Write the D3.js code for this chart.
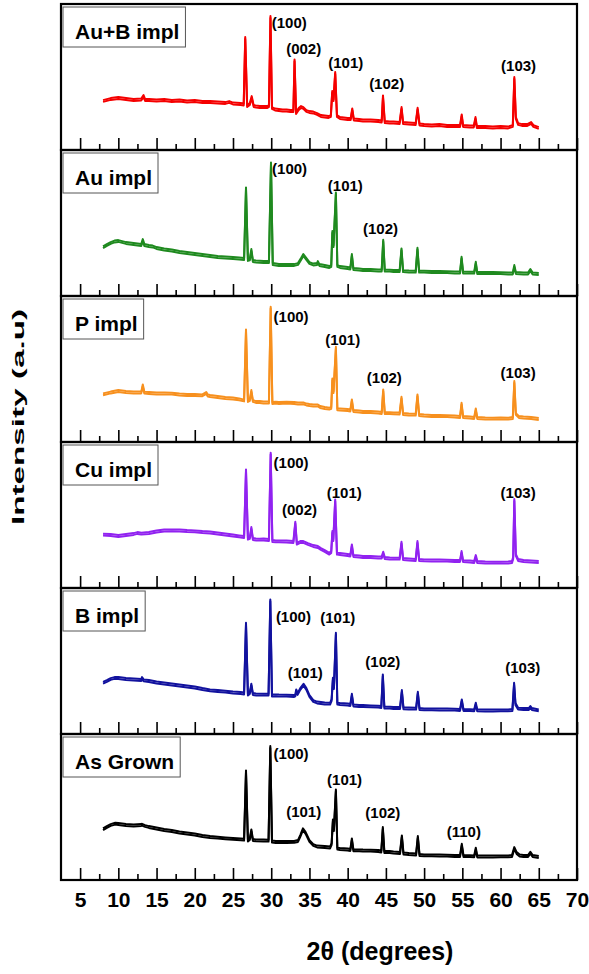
<!DOCTYPE html>
<html>
<head>
<meta charset="utf-8">
<script src="https://cdn.jsdelivr.net/npm/d3@7"></script>
<style>
  body { margin: 0; background: #fff; }
  svg { display: block; font-family: "Liberation Sans", Arial, sans-serif; }
</style>
</head>
<body>
<div id="chart"></div>
<script>
// sample names, top panel first
const sampleNames = ['Au+B impl', 'Au impl', 'P impl', 'Cu impl', 'B impl', 'As Grown']

const majorTicks = [5, 10, 15, 20, 25, 30, 35, 40, 45, 50, 55, 60, 65, 70]
const minorTicks = [7.5, 12.5, 17.5, 22.5, 27.5, 32.5, 37.5, 42.5, 47.5, 52.5, 57.5, 62.5, 67.5]

// [2theta, intensity a.u.]
const auBImpl = [[8,49],[8.5,50],[9,51],[10,52],[11,51],[12,50],[13,50.5],[13.3,54],[13.5,50],[14,50],[15,49.5],[16,50],[17,49],[18,49.5],[19,48.5],[20,49],[21,48],[22,48],[23,47.5],[24,47],[24.5,48],[25,46.5],[26,46],[26.4,45.5],[26.6,112],[26.85,44],[27.2,46],[27.45,53],[27.7,44],[28,43.5],[28.5,43],[29,43],[29.5,43],[29.7,44],[29.9,133],[30.1,42],[30.5,40.5],[31,40],[31.5,39.5],[32,39.5],[32.5,39],[32.9,39],[33.05,89.7],[33.25,37],[33.6,41],[33.9,43],[34.2,42],[34.6,39],[35,38],[35.5,37.5],[36,36],[36.5,34],[37,33.5],[37.5,33],[37.8,34],[37.98,58],[38.15,50],[38.37,77],[38.6,34],[39,32],[39.5,31.5],[40,31],[40.4,31],[40.6,40.7],[40.8,30.5],[41.5,30],[42,29.5],[43,29.5],[44,29],[44.45,28.5],[44.62,53.7],[44.85,28],[45.5,27.5],[46,27.5],[46.8,27],[47.05,42],[47.25,27],[48,26.5],[48.9,26],[49.15,41.3],[49.4,25.5],[50,25],[51,24.5],[52,25],[53,24],[54,24],[54.7,24],[54.92,34.7],[55.1,24],[56,23.5],[56.5,23.5],[56.72,32],[56.9,23],[58,23],[59,22.5],[60,23],[61,22.5],[61.6,24],[61.8,72],[62,32],[62.3,26],[62.8,25],[63.5,25],[64,27],[64.3,24],[65,22]]

const auImpl = [[8,48.7],[8.5,51],[9,53],[9.5,54.5],[10,55],[10.5,54],[11,53],[11.5,52.5],[12,52],[12.5,51.5],[13,51],[13.2,56],[13.4,51],[14,50],[14.5,49.5],[15,48],[16,46.5],[17,45.5],[18,44],[19,43],[20,42],[21,41],[22,40],[23,39],[24,38.5],[25,38],[25.8,37.5],[26.45,37],[26.7,107.7],[26.95,36],[27.2,36.5],[27.4,46],[27.6,35],[28,34.5],[29,34],[29.7,34],[29.97,132.7],[30.2,32],[30.6,31.5],[31,31],[32,31],[33,31],[33.5,32],[33.9,37],[34.2,41],[34.5,38],[35,33],[35.5,31.5],[36,32],[36.1,34],[36.3,31],[37,30],[37.6,29],[37.85,30],[38,64],[38.15,50],[38.46,102.7],[38.65,30],[39,29],[40,28],[40.35,27.5],[40.55,41],[40.75,27],[41.5,26.5],[42,26],[43,26],[44,25.5],[44.45,25.5],[44.65,55.3],[44.85,25.5],[45.5,25.3],[46,25],[46.8,25],[47.04,46.7],[47.25,24.8],[48,24.5],[48.9,24.3],[49.13,47.3],[49.35,24.3],[50,24.3],[51,24],[52,24],[53,23.8],[54,23.5],[54.7,23.5],[54.9,38.3],[55.1,23.5],[56,23.3],[56.55,23.3],[56.76,33.3],[56.95,23],[58,23],[59,23],[60,22.8],[61,22.5],[61.6,22.5],[61.8,30],[62,23],[63,22.5],[63.6,22.5],[63.9,26],[64.2,22.5],[65,22]]

const pImpl = [[8,47.7],[9,49.5],[10,51],[11,50],[12,49.5],[13,49.5],[13.2,56.7],[13.4,49.3],[14,49],[15,48.5],[16,48.5],[17,48.3],[18,47.5],[19,47],[20,47],[21,46.7],[21.5,49],[21.7,46.5],[22,46],[23,45],[24,44],[25,43.5],[25.8,42.7],[26.45,41.5],[26.7,111.7],[26.95,41],[27.2,42],[27.4,51],[27.6,41],[28,40],[28.5,40],[29,39.5],[29.7,39.5],[29.93,134.3],[30.15,39],[30.6,39.3],[31,39],[32,39.3],[33,39],[33.5,38.5],[34.2,38.7],[34.6,37.5],[35,37],[35.5,36.5],[36.1,36.5],[36.4,35],[37,34],[37.6,33.3],[37.85,34],[38,62.7],[38.15,50],[38.46,94.3],[38.65,32.7],[39,32.5],[40,32],[40.35,31.5],[40.55,41.7],[40.75,31],[41.5,30.5],[42,30],[43,30],[44,29.5],[44.45,29],[44.65,51.7],[44.85,29],[45.5,28.8],[46,28.7],[46.8,28.5],[47.04,44.3],[47.25,28],[48,27.5],[48.9,27.3],[49.13,46.7],[49.35,27],[50,26.5],[51,26],[52,26],[53,25.8],[54,25.5],[54.7,25],[54.9,38.3],[55.1,25],[56,24.5],[56.55,24],[56.76,32.7],[56.95,24],[58,23.5],[59,23.3],[60,23.5],[61,23.3],[61.6,24],[61.8,60],[62,28],[62.4,25],[63,24.5],[64,24],[65,23]]

const cuImpl = [[8,53.3],[9,53],[10,52],[11,53],[12,54],[12.5,55],[13,54.3],[14,55],[15,56.5],[16,57.5],[17,57.7],[18,57.5],[19,57],[20,56.7],[21,56],[22,55.5],[23,54.5],[24,53.5],[25,52.5],[25.8,51.7],[26.45,51],[26.7,117.7],[26.95,49.3],[27.2,50],[27.4,60],[27.6,49],[28,48.5],[28.5,48.3],[29,48.5],[29.7,48],[29.93,134.3],[30.15,47],[30.6,46.7],[31,46.7],[32,46.5],[32.9,46],[33.15,65.3],[33.35,44.3],[33.8,46],[34.2,46],[34.8,44],[35.5,42],[36.1,41],[36.5,39],[37,37],[37.6,34.3],[37.85,36],[38,56],[38.12,48],[38.37,87.7],[38.6,34.3],[39,34],[40,33],[40.35,32.5],[40.55,42.7],[40.75,32],[41.5,31.5],[42,31],[43,31],[44,30.5],[44.45,30.5],[44.65,35.3],[44.85,30],[45.5,29.5],[46,29.3],[46.8,29.3],[47.04,45.3],[47.25,29],[48,28.5],[48.9,28],[49.13,46],[49.35,28],[50,27.7],[51,27.5],[52,27.5],[53,27.3],[54,27],[54.7,27],[54.9,36],[55.1,26.8],[56,26.5],[56.55,26],[56.76,32],[56.95,26],[58,25.5],[59,25.3],[60,25.3],[61,25.5],[61.5,26],[61.65,30],[61.8,88],[62,33],[62.3,28],[63,27],[64,26.5],[65,26]]

const bImpl = [[8,51.3],[8.5,53],[9,55],[9.5,56],[10,56],[10.5,55.5],[11,55],[12,54.5],[13,54],[13.1,56],[13.3,53.7],[14,53],[15,51.5],[16,50.5],[17,49.5],[18,48.5],[19,47.5],[20,46.5],[21,45],[22,43.7],[23,43],[24,42.3],[25,41.5],[26,41],[26.45,40.5],[26.7,110.3],[26.95,39.5],[27.2,41],[27.4,49.3],[27.6,40],[28,39.5],[29,39.3],[29.65,39.3],[29.88,133.7],[30.1,38.5],[30.6,38.7],[31,38.5],[32,38.3],[33,38],[33.15,38.5],[33.27,43.7],[33.45,40],[33.8,45],[34.23,49.3],[34.6,45],[35,38],[35.5,33],[36,31.5],[37,30.5],[37.7,30.3],[37.9,34],[38.07,55.3],[38.2,46],[38.46,100.3],[38.65,30.3],[39,30],[40,29.5],[40.35,29],[40.55,39.3],[40.75,28.5],[41.5,28],[42,28],[43,27.7],[44,27.3],[44.4,27],[44.6,58.7],[44.8,26.5],[45.5,26.3],[46,26],[46.85,26],[47.09,43],[47.3,25.7],[48,25.5],[48.95,25.3],[49.18,41.3],[49.4,25],[50,24.7],[51,24.7],[52,24.5],[53,24.5],[54,24.3],[54.7,24],[54.93,33.7],[55.15,24],[56,23.8],[56.55,23.7],[56.76,30.3],[56.95,23.7],[58,23.5],[59,23.5],[60,23.7],[61,23.7],[61.55,24],[61.77,50.3],[61.95,30],[62.3,25.3],[63,25],[63.7,25],[63.9,27],[64.1,25],[65,23.7]]

const asGrown = [[8,50.7],[8.5,53],[9,55],[9.6,56.3],[10,56],[10.5,55.5],[11,55],[12,54.5],[13,55],[13.1,55.3],[13.5,54],[14,53],[15,51.5],[16,50],[17,49],[18,47.5],[19,46.5],[20,45.5],[21,44],[22,43],[23,42.3],[24,41.7],[25,41.2],[26,40.7],[26.45,40.3],[26.7,108.7],[26.95,39.5],[27.2,41],[27.4,49.7],[27.6,40],[28,39.7],[29,39.5],[29.65,39.3],[29.88,133],[30.1,38.5],[30.6,38],[31,38],[32,38],[33,38.2],[33.5,39],[33.8,44],[34.15,50.7],[34.5,47],[35,39],[35.5,35],[36,33.5],[37,33],[37.7,32.5],[37.9,36],[38.07,59.7],[38.2,50],[38.46,89.7],[38.65,31.3],[39,31],[40,30.5],[40.35,30],[40.55,40.7],[40.75,29.7],[41.5,29.7],[42,29.5],[43,29.3],[44,29],[44.4,28.5],[44.6,52],[44.8,28],[45.5,28],[46,27.5],[46.85,27],[47.09,43.7],[47.3,26.5],[48,26],[48.95,25.5],[49.18,43],[49.4,25],[50,24.7],[51,24.7],[52,24.5],[53,24.3],[54,24],[54.7,24],[54.93,35.3],[55.15,24],[56,23.8],[56.55,23.7],[56.76,31.3],[56.95,23.5],[58,23.5],[59,23.5],[60,23.7],[61,23.7],[61.5,24],[61.8,32],[62.1,27],[62.5,24.5],[63,24],[63.6,24],[63.9,27.3],[64.2,24],[65,23]]

// peak labels: [2theta, intensity at label baseline, text]
const auBPeaks = [[32.36,122,'(100)'],[34.25,96,'(002)'],[39.75,82,'(101)'],[45.1,61,'(102)'],[62.36,79,'(103)']]
const auPeaks = [[32.4,122,'(100)'],[39.7,105,'(101)'],[44.3,62,'(102)']]
const pPeaks = [[32.6,120,'(100)'],[39.35,97,'(101)'],[44.8,59,'(102)'],[62.3,64,'(103)']]
const cuPeaks = [[32.6,120,'(100)'],[33.7,73,'(002)'],[39.55,90,'(101)'],[62.3,90,'(103)']]
const bPeaks = [[32.9,112,'(100)'],[38.7,111,'(101)'],[34.45,56,'(101)'],[44.6,67,'(102)'],[62.9,61,'(103)']]
const asGrownPeaks = [[32.6,121,'(100)'],[39.6,95,'(101)'],[34.25,63,'(101)'],[44.6,62,'(102)'],[55.2,43,'(110)']]

const series = [auBImpl, auImpl, pImpl, cuImpl, bImpl, asGrown]
const peakLabels = [auBPeaks, auPeaks, pPeaks, cuPeaks, bPeaks, asGrownPeaks]
const colors = ['#f50000', '#1f8a1f', '#f7901e', '#9122f0', '#12129e', '#000000']

const width = 589, height = 974
const panelTop = 4, panelH = 146
const left = 61, right = 577

const svg = d3.select('#chart').append('svg')
  .attr('width', width).attr('height', height)
  .style('background', '#fff')

const x = d3.scaleLinear().domain([2.5, 70]).range([left, right])

sampleNames.forEach((name, i) => {
  const top = panelTop + i * panelH
  const bottom = top + panelH
  const y = d3.scaleLinear().domain([0, panelH]).range([bottom, top])
  const g = svg.append('g')

  // the scans are noisy: draw the trace twice, a pixel apart, to get the fuzzy band
  const line = d3.line().x((d) => x(d[0])).y((d) => y(d[1]))
  ;[-0.9, 0.9].forEach((off) => {
    g.append('path').datum(series[i])
      .attr('transform', `translate(0,${off})`)
      .attr('fill', 'none').attr('stroke', colors[i])
      .attr('stroke-width', 2).attr('stroke-linejoin', 'round')
      .attr('d', line)
  })

  // inward ticks along the bottom of each panel
  const major = d3.axisBottom(x).tickValues(majorTicks).tickSizeInner(-12).tickSizeOuter(0)
    .tickPadding(12).tickFormat(i === sampleNames.length - 1 ? d3.format('d') : () => '')
  const ax = g.append('g').attr('transform', `translate(0,${bottom})`).call(major)
  ax.select('.domain').remove()
  ax.selectAll('line').attr('stroke', '#000').attr('stroke-width', 1.6)
  ax.selectAll('text').attr('fill', '#000').attr('font-size', 21).attr('font-weight', 'bold')
    .attr('font-family', '"Liberation Sans", Arial, sans-serif')

  const minor = d3.axisBottom(x).tickValues(minorTicks).tickSizeInner(-6).tickSizeOuter(0).tickFormat(() => '')
  const mx = g.append('g').attr('transform', `translate(0,${bottom})`).call(minor)
  mx.select('.domain').remove()
  mx.selectAll('line').attr('stroke', '#000').attr('stroke-width', 1.6)

  g.selectAll('.peak').data(peakLabels[i]).join('text')
    .attr('x', (d) => x(d[0])).attr('y', (d) => y(d[1]))
    .attr('text-anchor', 'middle').attr('font-size', 15).attr('font-weight', 'bold')
    .text((d) => d[2])

  g.append('rect').attr('x', left).attr('y', top).attr('width', right - left).attr('height', panelH)
    .attr('fill', 'none').attr('stroke', '#000').attr('stroke-width', 2.2)

  // sample name box
  const box = g.append('g').attr('transform', `translate(63,${top + 3})`)
  const rect = box.append('rect').attr('fill', '#fff').attr('stroke', '#555').attr('stroke-width', 1)
  const t = box.append('text').attr('x', 12).attr('y', 32).attr('font-size', 21).attr('font-weight', 'bold').text(name)
  const bb = t.node().getBBox()
  rect.attr('x', 0).attr('y', 0).attr('width', bb.x + bb.width + 6).attr('height', 40)
})

svg.append('text')
  .attr('x', 380).attr('y', 960).attr('text-anchor', 'middle')
  .attr('font-size', 25).attr('font-weight', 'bold')
  .text('2θ (degrees)')

svg.append('text')
  .attr('transform', 'translate(24,417) rotate(-90)')
  .attr('text-anchor', 'middle').attr('font-size', 17).attr('font-weight', 'bold')
  .attr('textLength', 216).attr('lengthAdjust', 'spacingAndGlyphs')
  .text('Intensity (a.u)')
</script>
</body>
</html>
